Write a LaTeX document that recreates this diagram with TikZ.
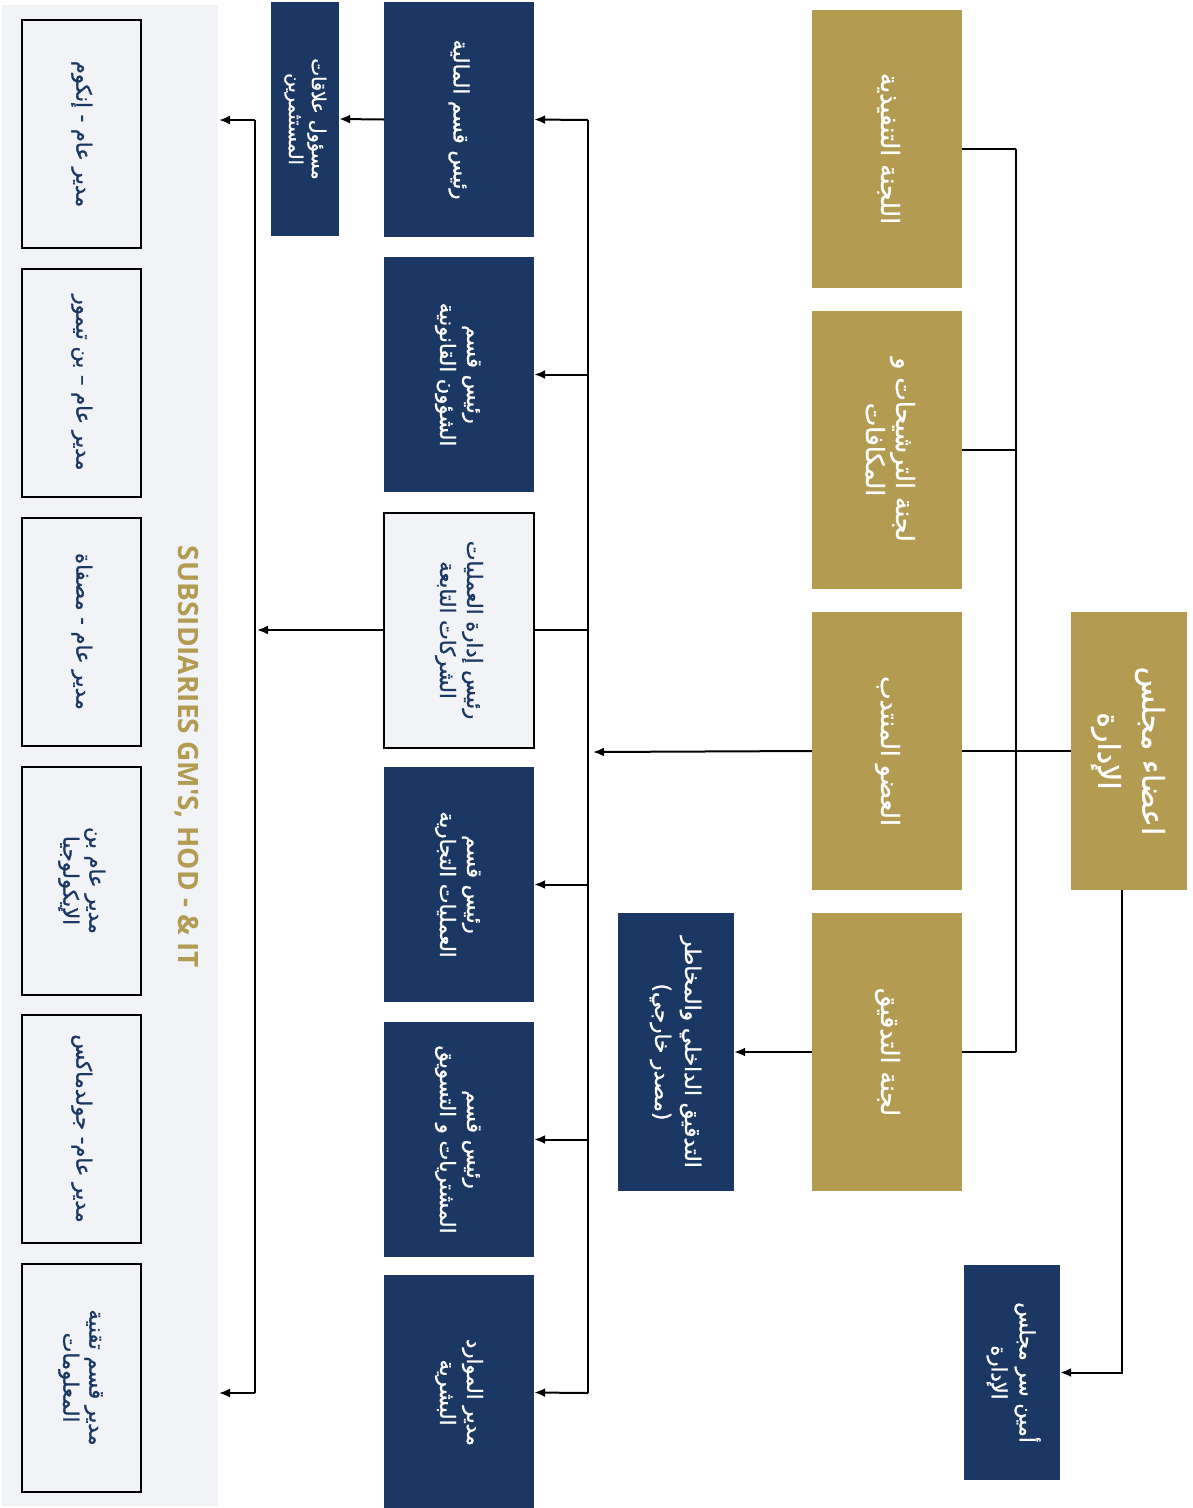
\documentclass[tikz,border=0pt]{standalone}
\usepackage{graphicx}
\usepackage{fontspec}
\setmainfont{DejaVu Sans}
\newfontfamily\arabicfont[Script=Arabic,RawFeature={embolden=1.2}]{DejaVu Sans}
\newfontfamily\subfont{Open Sans}
\TeXXeTstate=1
\usetikzlibrary{arrows.meta}
\definecolor{navy}{HTML}{1B3763}
\definecolor{gold}{HTML}{B39B52}
\definecolor{lightbg}{HTML}{F1F3F6}
\newcommand{\ar}[1]{{\arabicfont\beginR #1\endR}}
\newcommand{\rt}[1]{\rotatebox{-90}{\begin{tabular}{@{}c@{}}#1\end{tabular}}}
\begin{document}
\begin{tikzpicture}[x=1pt,y=-1pt,
  conn/.style={line width=2pt,black},
  arr/.style={conn,-{Latex[length=11pt,width=9pt]}},
  navybox/.style={fill=navy,text=white,inner sep=0pt},
  goldbox/.style={fill=gold,text=white,inner sep=0pt},
  lightbox/.style={fill=lightbg,draw=black,line width=2pt,text=navy,inner sep=0pt},
  midsz/.style={minimum width=150pt,minimum height=235pt,font=\fontsize{21}{27}\selectfont},
  goldsz/.style={minimum width=150pt,minimum height=278pt,font=\fontsize{25}{30}\selectfont},
  leftsz/.style={minimum width=119pt,minimum height=228pt,font=\fontsize{21}{26}\selectfont}
]
\useasboundingbox (0,0) rectangle (1193,1508);
% left panel
\fill[lightbg] (2,5) rectangle (218,1506);
\node[lightbox,leftsz] (s1) at (81.5,134) {\rt{\ar{مدير عام - إنكوم}}};
\node[lightbox,leftsz] (s2) at (81.5,382.5) {\rt{\ar{مدير عام – بن تيمور}}};
\node[lightbox,leftsz] (s3) at (81.5,631.5) {\rt{\ar{مدير عام - مصفاة}}};
\node[lightbox,leftsz] (s4) at (81.5,880.5) {\rt{\ar{مدير عام بن}\\\ar{الإيكولوجيا}}};
\node[lightbox,leftsz] (s5) at (81.5,1128.5) {\rt{\ar{مدير عام- جولدماكس}}};
\node[lightbox,leftsz] (s6) at (81.5,1377.5) {\rt{\ar{مدير قسم تقنية}\\\ar{المعلومات}}};
\node[text=gold,font=\subfont\bfseries\fontsize{28}{30}\selectfont,inner sep=0pt] (subs) at (187,757)
  {\rotatebox{-90}{SUBSIDIARIES GM'S, HOD - \& IT}};
% middle column
\node[navybox,midsz] (m1) at (459,119.5) {\rt{\ar{رئيس قسم المالية}}};
\node[navybox,midsz] (m2) at (459,374.5) {\rt{\ar{رئيس قسم}\\\ar{الشؤون القانونية}}};
\node[lightbox,midsz] (ops) at (459,630) {\rt{\ar{رئيس إدارة العمليات}\\\ar{الشركات التابعة}}};
\node[navybox,midsz] (m4) at (459,884.5) {\rt{\ar{رئيس قسم}\\\ar{العمليات التجارية}}};
\node[navybox,midsz] (m5) at (459,1139.5) {\rt{\ar{رئيس قسم}\\\ar{المشتريات و التسويق}}};
\node[navybox,midsz] (m6) at (459,1392.5) {\rt{\ar{مدير الموارد}\\\ar{البشرية}}};
\node[navybox,minimum width=68pt,minimum height=234pt,font=\fontsize{19}{23}\selectfont] (ir) at (305,119)
  {\rt{\ar{مسؤول علاقات}\\\ar{المستثمرين}}};
% committees
\node[goldbox,goldsz] (c1) at (887,148.5) {\rt{\ar{اللجنة التنفيذية}}};
\node[goldbox,goldsz] (c2) at (887,449.5) {\rt{\ar{لجنة الترشيحات و}\\\ar{المكافات}}};
\node[goldbox,goldsz] (md) at (887,751) {\rt{\ar{العضو المنتدب}}};
\node[goldbox,goldsz] (c4) at (887,1052) {\rt{\ar{لجنة التدقيق}}};
\node[goldbox,minimum width=116pt,minimum height=278pt,font=\fontsize{30}{44}\selectfont] (board) at (1129,751)
  {\rt{\ar{اعضاء مجلس}\\\ar{الإدارة}}};
\node[navybox,minimum width=96pt,minimum height=215pt,font=\fontsize{21}{28}\selectfont] (sec) at (1012,1372.5)
  {\rt{\ar{أمين سر مجلس}\\\ar{الإدارة}}};
\node[navybox,minimum width=116pt,minimum height=278pt,font=\fontsize{21.5}{30}\selectfont] (ia) at (676,1052)
  {\rt{\ar{التدقيق الداخلي والمخاطر}\\\ar{(مصدر خارجي)}}};
% coordinates
\coordinate (lbT) at (255,120);
\coordinate (lbB) at (255,1393);
\coordinate (lbM) at (257,630);
\coordinate (panT) at (219,120);
\coordinate (panB) at (219,1393);
\coordinate (rbT) at (588,120);
\coordinate (rbB) at (588,1393);
\coordinate (rbMD) at (593,752);
\coordinate (cbT) at (1016,148.5);
\coordinate (cbB) at (1016,1052);
\coordinate (bdown) at (1122,890);
% connectors
\draw[conn] (lbT) -- (lbB);
\draw[arr] (lbT) -- (panT);
\draw[arr] (lbB) -- (panB);
\draw[arr] (ops.west) -- (lbM);
\draw[arr] (m1.west) -- (ir.east);
\draw[conn] (rbT) -- (rbB);
\draw[arr] (rbT) -- (m1.east);
\draw[arr] (588,374.5) -- (m2.east);
\draw[conn] (588,630) -- (ops.east);
\draw[arr] (588,884.5) -- (m4.east);
\draw[arr] (588,1139.5) -- (m5.east);
\draw[arr] (rbB) -- (m6.east);
\draw[arr] (md.west) -- (rbMD);
\draw[conn] (board.west) -- (md.east);
\draw[conn] (cbT) -- (cbB);
\draw[conn] (cbT) -- (c1.east);
\draw[conn] (1016,449.5) -- (c2.east);
\draw[conn] (cbB) -- (c4.east);
\draw[arr] (bdown) |- (sec.east);
\draw[arr] (c4.west) -- (ia.east);
\end{tikzpicture}
\end{document}
